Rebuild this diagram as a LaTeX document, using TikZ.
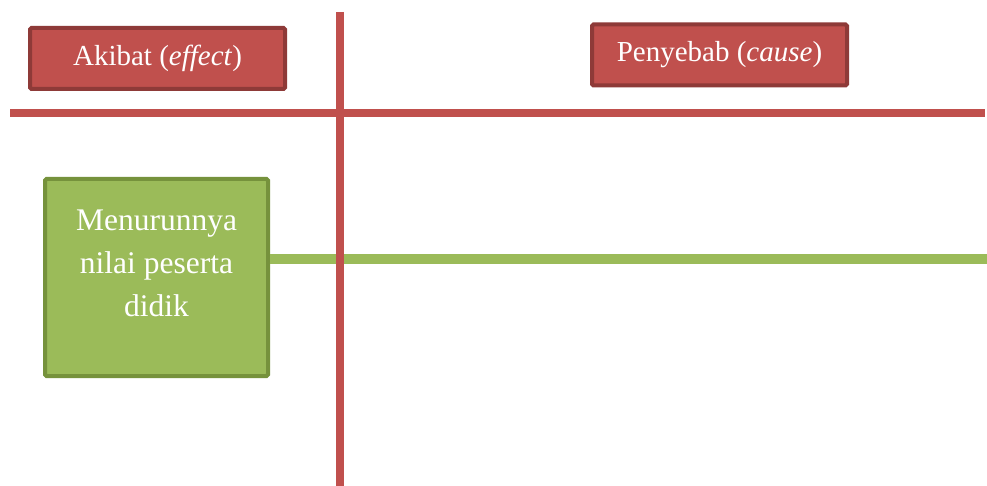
\documentclass[tikz,border=0pt]{standalone}
\usepackage{fontspec}
\setmainfont{Liberation Serif}
\definecolor{hdrfill}{HTML}{C0504D}
\definecolor{hdredge}{HTML}{8E3A38}
\definecolor{effill}{HTML}{9BBB59}
\definecolor{efedge}{HTML}{76923C}
\begin{document}
\begin{tikzpicture}[x=1pt,y=-1pt,
  header/.style={draw=hdredge, fill=hdrfill, line width=4pt, rounded corners=1.5pt,
    minimum width=255pt, minimum height=61pt, inner sep=0pt, text=white,
    font=\fontsize{29}{34}\selectfont},
  effectbox/.style={draw=efedge, fill=effill, line width=4pt, rounded corners=1.5pt,
    minimum width=223pt, minimum height=197pt, inner sep=0pt},
  efftext/.style={text=white, align=center, font=\fontsize{31.5}{43}\selectfont},
  axis/.style={draw=hdrfill, line width=7.5pt},
  bone/.style={draw=effill, line width=10pt}]
  \useasboundingbox (0,0) rectangle (987,486);
  \path[fill=white] (0,0) rectangle (987,486);

  % spine from the effect to the right edge
  \node[effectbox] (effect) at (156.5,277.5) {};
  \node[efftext] (efflabel) at (156.5,263) {Menurunnya\\nilai peserta\\didik};
  \coordinate (spineend) at (987,259);
  \draw[bone] (effect.east |- spineend) -- (spineend);

  % dividing axes
  \coordinate (hleft) at (10,113);
  \coordinate (hright) at (985,113);
  \coordinate (vtop) at (340,12);
  \coordinate (vbottom) at (340,486);
  \draw[axis] (hleft) -- (hright);
  \draw[axis] (vtop) -- (vbottom);

  % column headers
  \node[header] (akibat) at (157.5,58.5) {Akibat (\textit{effect})};
  \node[header] (penyebab) at (719.5,55) {Penyebab (\textit{cause})};
\end{tikzpicture}
\end{document}
